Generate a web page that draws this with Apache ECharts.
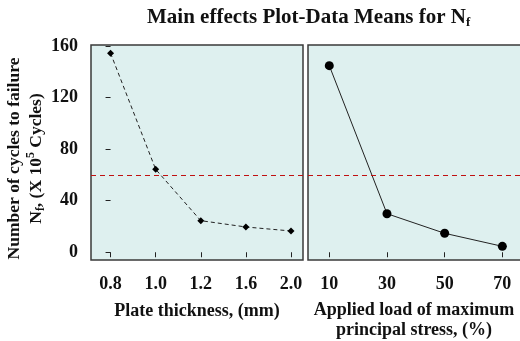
<!DOCTYPE html>
<html>
<head>
<meta charset="utf-8">
<script src="https://cdn.jsdelivr.net/npm/echarts@6/dist/echarts.min.js"></script>
<style>html,body{margin:0;padding:0;background:#fff}#c{width:520px;height:341px}</style>
</head>
<body>
<div id="c"></div>
<script>
// ---- data ----
var thicknessLabels = ['0.8', '1.0', '1.2', '1.6', '2.0'];
var thicknessMeans = [154.3, 64.3, 24.5, 19.6, 16.5];
var loadLevels = [10, 30, 50, 70];
var loadMeans = [144.7, 29.9, 14.7, 4.6];
var yTicks = [0, 40, 80, 120, 160];
var grandMean = 59.4;

var FONT = "'Liberation Serif', 'Times New Roman', serif";
var bg = '#def0ef';
var border = '#3a3a3a';
var meanColor = '#c01010';

var chart = echarts.init(document.getElementById('c'), null, {renderer: 'canvas'});

function meanLine() {
  return {
    silent: true,
    symbol: ['none', 'none'],
    label: {show: false},
    itemStyle: {color: meanColor},
    lineStyle: {color: meanColor, type: [5, 4], width: 1.2, opacity: 1},
    emphasis: {disabled: true},
    data: [{yAxis: grandMean, itemStyle: {color: meanColor}, lineStyle: {color: meanColor, type: [5, 4], width: 1.2}}]
  };
}

function labelStyle(extra) {
  var o = {fontFamily: FONT, fontWeight: 'bold', fontSize: 18, color: '#111'};
  for (var k in extra) o[k] = extra[k];
  return o;
}

var tickStyle = {show: true, inside: false, length: 5, lineStyle: {color: '#222', width: 1}};

chart.setOption({
  animation: false,
  title: {
    text: 'Main effects Plot-Data Means for N{sub|f}',
    left: 142, top: 2,
    textStyle: {
      fontFamily: FONT, fontWeight: 'bold', fontSize: 21, color: '#111',
      rich: {sub: {fontFamily: FONT, fontWeight: 'bold', fontSize: 13, color: '#111', verticalAlign: 'bottom', padding: [9, 0, 0, 0]}}
    }
  },
  grid: [
    {left: 91, top: 45, width: 212, height: 215, show: true, backgroundColor: bg, borderColor: border, borderWidth: 1.5, outerBoundsMode: 'none', containLabel: false},
    {left: 308, top: 45, width: 216, height: 215, show: true, backgroundColor: bg, borderColor: border, borderWidth: 1.5, outerBoundsMode: 'none', containLabel: false}
  ],
  xAxis: [
    {
      type: 'value', gridIndex: 0, min: -0.434, max: 4.266,
      axisLine: {show: false}, splitLine: {show: false},
      axisTick: Object.assign({customValues: [0, 1, 2, 3, 4]}, tickStyle),
      axisLabel: labelStyle({margin: 15, customValues: [0, 1, 2, 3, 4], formatter: function (v) { return thicknessLabels[Math.round(v)]; }}),
      name: 'Plate thickness, (mm)', nameLocation: 'middle', nameGap: 42,
      nameTextStyle: labelStyle({})
    },
    {
      type: 'value', gridIndex: 1, min: 2.62, max: 77.5,
      axisLine: {show: false}, splitLine: {show: false},
      axisTick: Object.assign({customValues: loadLevels}, tickStyle),
      axisLabel: labelStyle({margin: 15, customValues: loadLevels}),
      name: 'Applied load of maximum\nprincipal stress, (%)', nameLocation: 'middle', nameGap: 40,
      nameTextStyle: labelStyle({lineHeight: 20, padding: [0, 4, 0, 0]})
    }
  ],
  yAxis: [
    {
      type: 'value', gridIndex: 0, min: -6, max: 160.7,
      axisLine: {show: false}, splitLine: {show: false},
      axisTick: Object.assign({customValues: yTicks}, tickStyle),
      axisLabel: labelStyle({margin: 13, customValues: yTicks}),
      name: 'Number of cycles to failure\nN{sub|f}, (X 10{sup|5} Cycles)', nameLocation: 'middle', nameGap: 44, nameRotate: 90,
      nameTextStyle: labelStyle({
        fontSize: 17.5,
        lineHeight: 22,
        padding: [0, 12, 0, 0],
        rich: {
          sub: {fontFamily: FONT, fontWeight: 'bold', fontSize: 12, color: '#111', verticalAlign: 'bottom', lineHeight: 22},
          sup: {fontFamily: FONT, fontWeight: 'bold', fontSize: 12, color: '#111', verticalAlign: 'top', lineHeight: 22}
        }
      })
    },
    {
      type: 'value', gridIndex: 1, min: -6, max: 160.7,
      axisLine: {show: false}, splitLine: {show: false},
      axisTick: {show: false, customValues: yTicks},
      axisLabel: {show: false, customValues: yTicks}
    }
  ],
  series: [
    {
      type: 'line', xAxisIndex: 0, yAxisIndex: 0,
      data: thicknessMeans.map(function (v, i) { return [i, v]; }),
      symbol: 'diamond', symbolSize: 7,
      itemStyle: {color: '#000'},
      lineStyle: {color: '#222', width: 1, type: [4, 3]},
      markLine: meanLine()
    },
    {
      type: 'line', xAxisIndex: 1, yAxisIndex: 1,
      data: loadLevels.map(function (x, i) { return [x, loadMeans[i]]; }),
      symbol: 'circle', symbolSize: 9,
      itemStyle: {color: '#000'},
      lineStyle: {color: '#222', width: 1},
      markLine: meanLine()
    }
  ]
});
</script>
</body>
</html>
